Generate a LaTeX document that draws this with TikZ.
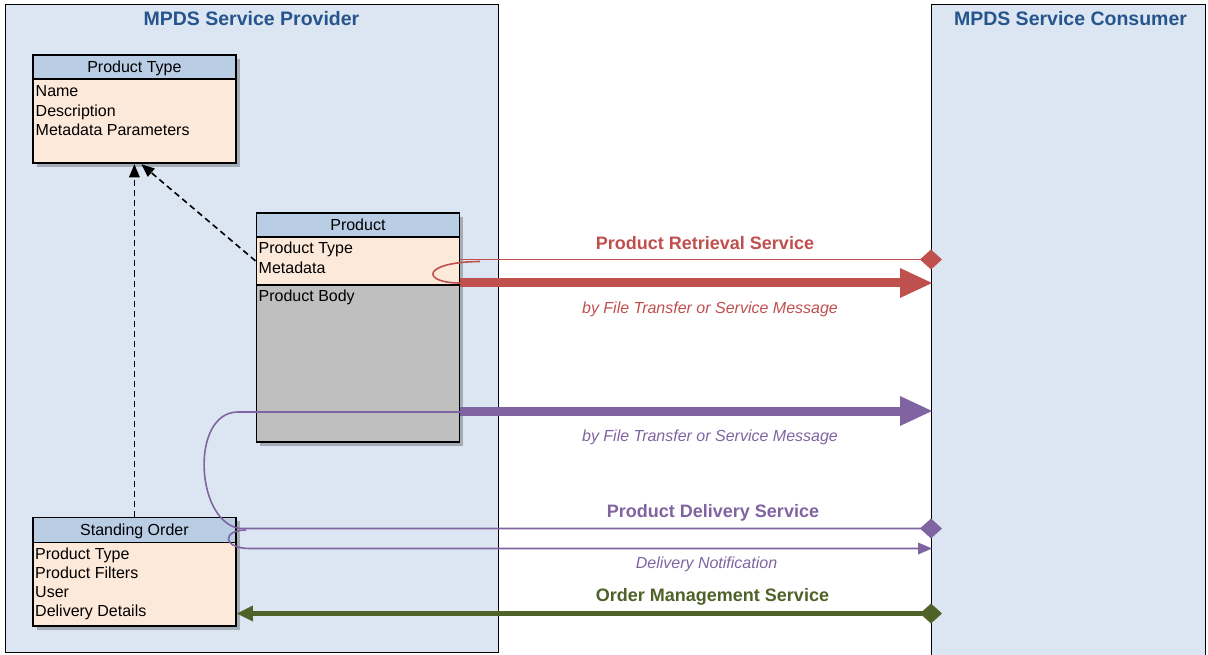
\documentclass[tikz,border=0pt]{standalone}
\usepackage{fontspec}
\setmainfont{Liberation Sans}
\usetikzlibrary{arrows.meta,shadows,calc}

\definecolor{panelfill}{RGB}{220,230,242}
\definecolor{hdrfill}{RGB}{185,205,229}
\definecolor{bodyfill}{RGB}{253,233,217}
\definecolor{grayfill}{RGB}{191,191,191}
\definecolor{titleblue}{RGB}{38,84,140}
\definecolor{cred}{RGB}{192,80,77}
\definecolor{cpurple}{RGB}{128,100,162}
\definecolor{cgreen}{RGB}{79,98,40}

\newcommand{\myfs}[1]{\fontsize{#1}{#1}\selectfont}

\tikzset{
  panel/.style={draw=black, line width=1.3pt, fill=panelfill, anchor=north west, inner sep=0pt},
  paneltitle/.style={font=\bfseries\myfs{19.5}, text=titleblue, anchor=base, inner sep=0pt},
  boxpart/.style={draw=black, line width=1.8pt, anchor=north west, inner sep=0pt,
    minimum width=203pt,
    drop shadow={shadow xshift=4pt, shadow yshift=-4pt, opacity=.25, fill=black}},
  hdr/.style={boxpart, fill=hdrfill, font=\myfs{16}, text height=11.5pt, text depth=0pt},
  bodypart/.style={boxpart, fill=bodyfill},
  graypart/.style={boxpart, fill=grayfill},
  item/.style={anchor=base west, inner sep=0pt, font=\myfs{16}},
  lbl/.style={anchor=base, inner sep=0pt, font=\bfseries\myfs{18}},
  ilbl/.style={anchor=base, inner sep=0pt, font=\itshape\myfs{16}},
  dep/.style={draw=black, line width=1.6pt, dash pattern=on 6pt off 4pt,
    -{Triangle[length=13pt,width=11pt,line width=0pt]}},
  wire/.style={line width=1.6pt},
  bigtip/.style={-{Triangle[length=32pt,width=30pt,line width=0pt]}},
  endmark/.style={-{Diamond[length=22pt,width=20pt,line width=0pt]}},
}

\begin{document}
\begin{tikzpicture}[x=1pt,y=-1pt]
\path[use as bounding box, fill=white] (0,0) rectangle (1208,655);

% panels
\node[panel, minimum width=493pt, minimum height=648pt] (prov) at (5,4) {};
\node[panel, minimum width=274pt, minimum height=660pt] (cons) at (931,4) {};
\node[paneltitle] (provt) at (251.5,25.7) {MPDS Service Provider};
\node[paneltitle] (const) at (1070.5,26) {MPDS Service Consumer};

% Product Type box
\node[hdr, minimum height=24pt] (pth) at (32,54) {Product Type};
\node[bodypart, minimum height=84.5pt] (ptb) at (32,78) {};
\node[item] (pt1) at (35.5,96.7) {Name};
\node[item] (pt2) at (35.5,116.5) {Description};
\node[item] (pt3) at (35.5,135.5) {Metadata Parameters};

% Product box
\node[hdr, minimum height=24pt] (ph) at (255.5,212) {Product};
\node[bodypart, minimum height=48pt] (pm) at (255.5,236) {};
\node[graypart, minimum height=157pt] (pb) at (255.5,284) {};
\node[item] (p1) at (258.5,254) {Product Type};
\node[item] (p2) at (258.5,274) {Metadata};
\node[item] (p3) at (258.5,301.7) {Product Body};

% Standing Order box
\node[hdr, minimum height=25pt] (soh) at (32,516.5) {Standing Order};
\node[bodypart, minimum height=83.5pt] (sob) at (32,541.5) {};
\node[item] (s1) at (35,559.3) {Product Type};
\node[item] (s2) at (35,578.5) {Product Filters};
\node[item] (s3) at (35,597) {User};
\node[item] (s4) at (35,616.7) {Delivery Details};

% dependencies
\draw[dep] (soh.north) -- (ptb.south);
\draw[dep] (pm.west) -- ($(ptb.south)+(7,0)$);

% consumer-side end points
\coordinate (cR1) at (942,259.5);
\coordinate (cR2) at (932,283);
\coordinate (cP1) at (932,411);
\coordinate (cP2) at (942,528.5);
\coordinate (cP3) at (932,548.5);
\coordinate (cG) at (942,613.5);
\coordinate (rLoop) at (480,261.5);
\coordinate (pLoopA) at (238,412);
\coordinate (pLoopB) at (240,528.5);
\coordinate (nLoopA) at (246,530);
\coordinate (nLoopB) at (250,548.5);

% Product Retrieval Service (red)
\draw[cred, wire, endmark] (pm.east |- cR1) -- (cR1);
\draw[cred, wire] (pm.east |- cR2) .. controls (421,283) and (421,262) .. (rLoop);
\draw[cred, line width=9pt, bigtip] (pm.east |- cR2) -- (cR2);

% Product Delivery Service (purple)
\draw[cpurple, line width=9pt, bigtip] (pb.east |- cP1) -- (cP1);
\draw[cpurple, wire, endmark]
  (pb.east |- pLoopA) -- (pLoopA) .. controls (190,412) and (195,522) .. (pLoopB) -- (cP2);
\draw[cpurple, wire, -{Triangle[length=14pt,width=12pt,line width=0pt]}]
  (nLoopA) .. controls (222,530) and (222,548.5) .. (nLoopB) -- (cP3);

% Order Management Service (green)
\draw[cgreen, line width=4.5pt,
  {Triangle[length=16pt,width=16pt,line width=0pt]}-{Diamond[length=22pt,width=20pt,line width=0pt]}]
  (sob.east |- cG) -- (cG);

% labels
\node[lbl, text=cred] (lPR) at (705,250) {Product Retrieval Service};
\node[ilbl, text=cred] (lFT1) at (710,313) {by File Transfer or Service Message};
\node[ilbl, text=cpurple] (lFT2) at (710,441) {by File Transfer or Service Message};
\node[lbl, text=cpurple] (lPD) at (713,517) {Product Delivery Service};
\node[ilbl, text=cpurple] (lDN) at (706.5,568) {Delivery Notification};
\node[lbl, text=cgreen] (lOM) at (712.5,601) {Order Management Service};
\end{tikzpicture}
\end{document}
